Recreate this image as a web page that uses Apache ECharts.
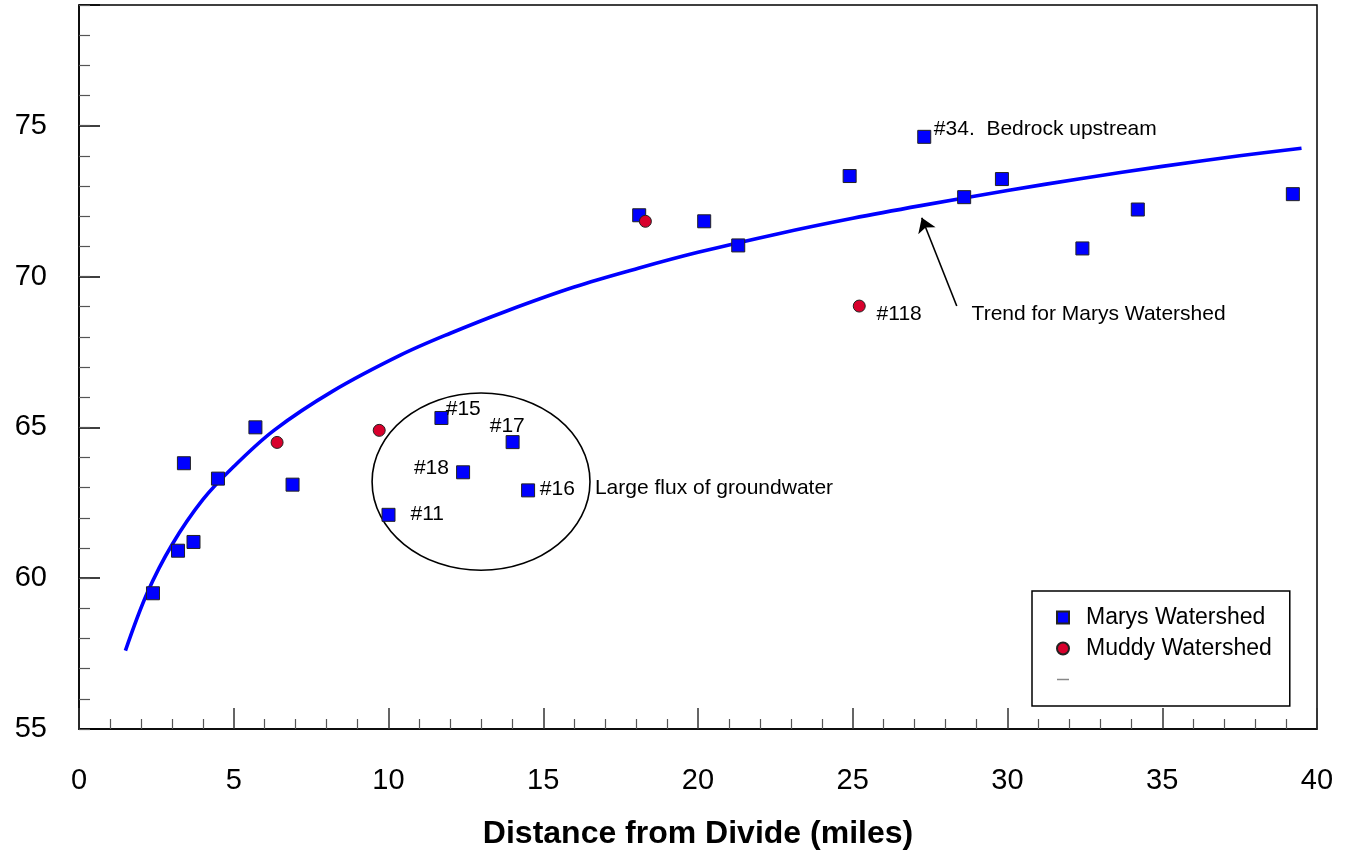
<!DOCTYPE html>
<html>
<head>
<meta charset="utf-8">
<script src="https://cdn.jsdelivr.net/npm/echarts@6/dist/echarts.min.js"></script>
<style>
  html, body { margin: 0; padding: 0; background: #fff; }
  #chart { width: 1354px; height: 857px; }
</style>
</head>
<body>
<div id="chart"></div>
<script>
// points (miles, y value)
var marysX = [2.39, 3.2, 3.39, 3.7, 4.49, 5.7, 6.9, 10.0, 11.71, 12.41, 14.01, 14.51, 18.1, 20.2, 21.3, 24.9, 27.31, 28.6, 29.82, 32.42, 34.21, 39.22]
var marysY = [59.5, 60.91, 63.81, 61.2, 63.3, 65.0, 63.1, 62.1, 65.31, 63.51, 64.51, 62.91, 72.03, 71.83, 71.03, 73.33, 74.63, 72.63, 73.23, 70.93, 72.22, 72.73]

var muddyX = [6.4, 9.7, 18.3, 25.21]
var muddyY = [64.5, 64.9, 71.83, 69.02]

// trend curve, sampled along the drawn line
var trendX = [1.5, 2.2, 3.0, 4.0, 5.0, 6.3, 8.2, 10.4, 12.0, 13.8, 16.0, 18.1, 20.0, 22.6, 25.0, 27.2, 30.0, 32.4, 35.0, 37.5, 39.5]
var trendY = [57.6, 59.5, 61.1, 62.6, 63.7, 64.9, 66.2, 67.4, 68.12, 68.85, 69.65, 70.28, 70.8, 71.42, 71.93, 72.35, 72.85, 73.25, 73.65, 74.0, 74.25]

var xTicks = [0, 5, 10, 15, 20, 25, 30, 35, 40]
var yTicks = [55, 60, 65, 70, 75]

// notes: [x, y, text] (text starts at x, centred on y)
var notes = [
  [27.62, 74.88, '#34.  Bedrock upstream'],
  [25.77, 68.76, '#118'],
  [28.84, 68.76, 'Trend for Marys Watershed'],
  [11.85, 65.61, '#15'],
  [13.27, 65.04, '#17'],
  [10.82, 63.66, '#18'],
  [14.89, 62.96, '#16'],
  [10.71, 62.11, '#11'],
  [16.67, 62.99, 'Large flux of groundwater']
]

// ellipse round the groundwater group: [cx, cy, rx, ry]
var ringData = [[12.99, 63.2, 3.52, 2.94]]
// arrow from the trend note to the curve
var arrowFrom = [28.36, 69.02]
var arrowTo = [27.23, 71.95]

function zip(a, b) {
  var out = []
  for (var i = 0; i < a.length; i++) out.push([a[i], b[i]])
  return out
}

var font = "'Liberation Sans', Arial, sans-serif"

var chart = echarts.init(document.getElementById('chart'))

var option = {
  animation: false,
  backgroundColor: '#fff',
  textStyle: { fontFamily: font, color: '#000' },
  grid: {
    left: 79, right: 37, top: 5, bottom: 128,
    show: true, borderColor: '#000', borderWidth: 1.5
  },
  legend: {
    orient: 'vertical',
    left: 1032, top: 591,
    padding: [15, 18, 15, 24],
    itemGap: 8,
    itemWidth: 12, itemHeight: 12,
    backgroundColor: '#fff',
    borderColor: '#000', borderWidth: 1.5, borderRadius: 0,
    selectedMode: false,
    textStyle: { fontFamily: font, fontSize: 23, lineHeight: 23, color: '#000', padding: [0, 0, 0, 12] },
    data: [
      { name: 'Marys Watershed', icon: 'rect' },
      { name: 'Muddy Watershed', icon: 'circle' },
      { name: ' ', icon: 'path://M0,0H12V1.5H0Z', itemStyle: { color: '#888', borderWidth: 0 } }
    ]
  },
  xAxis: {
    type: 'value',
    min: xTicks[0], max: xTicks[xTicks.length - 1], interval: 5,
    name: 'Distance from Divide (miles)',
    nameLocation: 'middle', nameGap: 89,
    nameTextStyle: { fontFamily: font, fontSize: 32, fontWeight: 'bold', color: '#000' },
    axisLine: { show: true, lineStyle: { color: '#000', width: 1.5 } },
    axisTick: { show: true, inside: true, length: 21, lineStyle: { color: '#333', width: 1.5 } },
    minorTick: { show: true, splitNumber: 5, length: 10, lineStyle: { color: '#555', width: 1.2 } },
    axisLabel: { fontFamily: font, fontSize: 29, color: '#000', margin: 37 },
    splitLine: { show: false }
  },
  yAxis: [
    {
      type: 'value',
      min: yTicks[0], max: 79, interval: 5,
      axisLine: { show: true, lineStyle: { color: '#000', width: 1.5 } },
      axisTick: { show: true, inside: true, length: 21, lineStyle: { color: '#000', width: 1.5 } },
      axisLabel: {
        fontFamily: font, fontSize: 29, color: '#000', margin: 32,
        formatter: function (v) { return yTicks.indexOf(v) >= 0 ? String(v) : '' }
      },
      splitLine: { show: false }
    },
    {
      type: 'value',
      min: yTicks[0], max: 79, interval: 1,
      position: 'left',
      axisLine: { show: false },
      axisTick: { show: true, inside: true, length: 11, lineStyle: { color: '#555', width: 1.2 } },
      axisLabel: { show: false },
      splitLine: { show: false }
    }
  ],
  series: [
    {
      name: ' ',
      type: 'line',
      data: zip(trendX, trendY),
      smooth: 0.35,
      showSymbol: false,
      symbol: 'none',
      lineStyle: { color: '#0000ff', width: 3.6 },
      itemStyle: { color: '#0000ff' },
      z: 2
    },
    {
      name: 'Marys Watershed',
      type: 'scatter',
      data: zip(marysX, marysY),
      symbol: 'rect',
      symbolSize: 13,
      itemStyle: { color: '#0000ff', borderColor: '#222', borderWidth: 1, opacity: 1 },
      z: 4
    },
    {
      name: 'Muddy Watershed',
      type: 'scatter',
      data: zip(muddyX, muddyY),
      symbol: 'circle',
      symbolSize: 12,
      itemStyle: { color: '#d8002c', borderColor: '#222', borderWidth: 1, opacity: 1 },
      z: 5
    },
    {
      name: 'ring',
      type: 'custom',
      data: ringData,
      encode: { x: 0, y: 1 },
      silent: true,
      z: 3,
      renderItem: function (params, api) {
        var c = api.coord([api.value(0), api.value(1)])
        var s = api.size([api.value(2), api.value(3)])
        return {
          type: 'ellipse',
          shape: { cx: c[0], cy: c[1], rx: s[0], ry: s[1] },
          style: { fill: 'none', stroke: '#000', lineWidth: 1.6 }
        }
      }
    },
    {
      name: 'arrow',
      type: 'lines',
      coordinateSystem: 'cartesian2d',
      data: [{ coords: [arrowFrom, arrowTo] }],
      symbol: ['none', 'arrow'],
      symbolSize: [0, 14],
      lineStyle: { color: '#000', width: 1.6, opacity: 1 },
      silent: true,
      z: 3
    },
    {
      name: 'notes',
      type: 'scatter',
      data: notes,
      symbolSize: 0,
      silent: true,
      z: 6,
      itemStyle: { opacity: 1 },
      label: {
        show: true,
        position: 'right',
        distance: 0,
        fontFamily: font,
        fontSize: 21,
        color: '#000',
        opacity: 1,
        formatter: function (p) { return p.data[2] }
      }
    }
  ]
}

chart.setOption(option)
</script>
</body>
</html>
